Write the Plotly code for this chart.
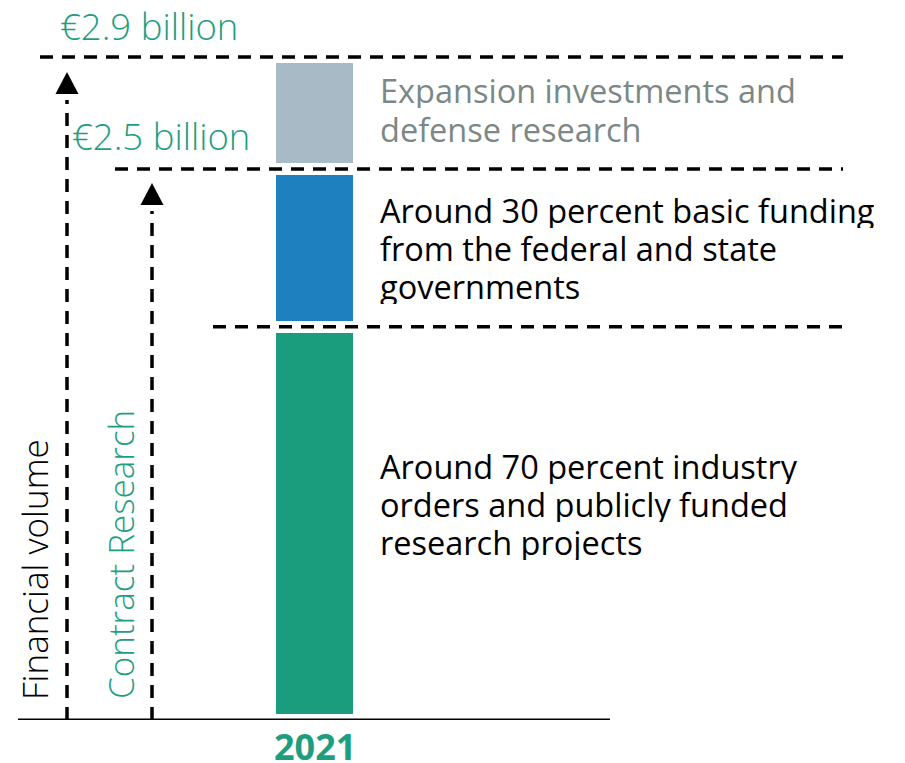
import plotly.graph_objects as go

# ---- data ----
year = ["2021"]
segment_names = ["Industry orders and public projects", "Basic funding", "Expansion and defense"]
segment_values = [1.72, 0.69, 0.49]          # billion EUR (schematic heights)
segment_colors = ["#1a9d7d", "#1f80c0", "#a7bac6"]
total_label = "€2.9 billion"
contract_label = "€2.5 billion"
gray_text = ["Expansion investments and", "defense research"]
blue_text = ["Around 30 percent basic funding", "from the federal and state", "governments"]
green_text = ["Around 70 percent industry", "orders and publicly funded", "research projects"]

W, H = 905, 763
MB = 43
PH = H - MB
YMAX = 3.149
GREEN = "#1f9e7f"
FONT = "Open Sans"

def px(x):
    return x / W

def py(y):
    return (PH - y) / PH

cum = []
s = 0
for v in segment_values:
    s += v
    cum.append(s)

fig = go.Figure()
for name, v, c in zip(segment_names, segment_values, segment_colors):
    fig.add_trace(go.Bar(x=year, y=[v], name=name, width=1.0,
                         marker=dict(color=c, line=dict(color="white", width=12)),
                         showlegend=False, hoverinfo="skip"))

shapes = []
dash = "13px,9px"
# horizontal dashed lines at the segment boundaries
for y, x0 in zip([cum[0], cum[1], cum[2]], [213, 115, 40]):
    shapes.append(dict(type="line", xref="paper", yref="y", x0=px(x0), x1=px(843), y0=y, y1=y,
                       line=dict(color="black", width=3.5, dash=dash), layer="above"))
# vertical dashed arrows
for xc, tip in [(67, 72), (152, 183)]:
    shapes.append(dict(type="line", xref="paper", yref="paper", x0=px(xc), x1=px(xc),
                       y0=py(720), y1=py(tip + 28),
                       line=dict(color="black", width=3.5, dash=dash)))
    shapes.append(dict(type="path", xref="paper", yref="paper",
                       path=f"M {px(xc-11.5)} {py(tip+22)} L {px(xc+11.5)} {py(tip+22)} L {px(xc)} {py(tip)} Z",
                       fillcolor="black", line=dict(width=0)))
# baseline
shapes.append(dict(type="line", xref="paper", yref="y", x0=px(18), x1=px(610), y0=0, y1=0,
                   line=dict(color="black", width=3)))

ann = []
def label(text, x, y, size, color, weight=400, angle=0, xanchor="left", height=None):
    a = dict(text=text, xref="paper", yref="paper", x=px(x), y=py(y), showarrow=False,
             xanchor=xanchor, yanchor="middle", textangle=angle,
             font=dict(family=FONT, size=size, color=color, weight=weight))
    if height:
        a["height"] = height
        a["valign"] = "middle"
    ann.append(a)

label(total_label, 58, 26, 36.5, GREEN, 300)
label(contract_label, 70, 136, 36.5, GREEN, 300)
label("Financial volume", 34, 570, 35, "black", 300, angle=-90, xanchor="center")
label("Contract Research", 120, 555, 35, GREEN, 300, angle=-90, xanchor="center")
for i, t in enumerate(gray_text):
    label(t, 378, 90 + 39 * i, 32.5, "#7b8886", height=36)
for i, t in enumerate(blue_text):
    label(t, 378, 210 + 38 * i, 32.5, "black", height=36)
for i, t in enumerate(green_text):
    label(t, 378, 466 + 38 * i, 32.5, "black", height=36)
# category label under the bar (category index 0 on the x axis)
ann.append(dict(text=year[0], xref="x", yref="paper", x=0, y=py(746), showarrow=False,
                xanchor="center", yanchor="middle", height=32, valign="middle",
                font=dict(family=FONT, size=36, color=GREEN, weight=700)))

fig.update_layout(
    barmode="stack", width=W, height=H, margin=dict(l=0, r=0, t=0, b=MB, autoexpand=False),
    plot_bgcolor="white", paper_bgcolor="white", shapes=shapes, annotations=ann,
    xaxis=dict(type="category", range=[-314.5 / 89, (W - 314.5) / 89], showgrid=False,
               showline=False, ticks="", zeroline=False, showticklabels=False, automargin=False),
    yaxis=dict(range=[0, YMAX], visible=False, showgrid=False, zeroline=False, automargin=False),
)
fig.write_html("out.html", config={"displayModeBar": False},
               post_script="document.body.style.margin='0';document.body.style.overflow='hidden';")
